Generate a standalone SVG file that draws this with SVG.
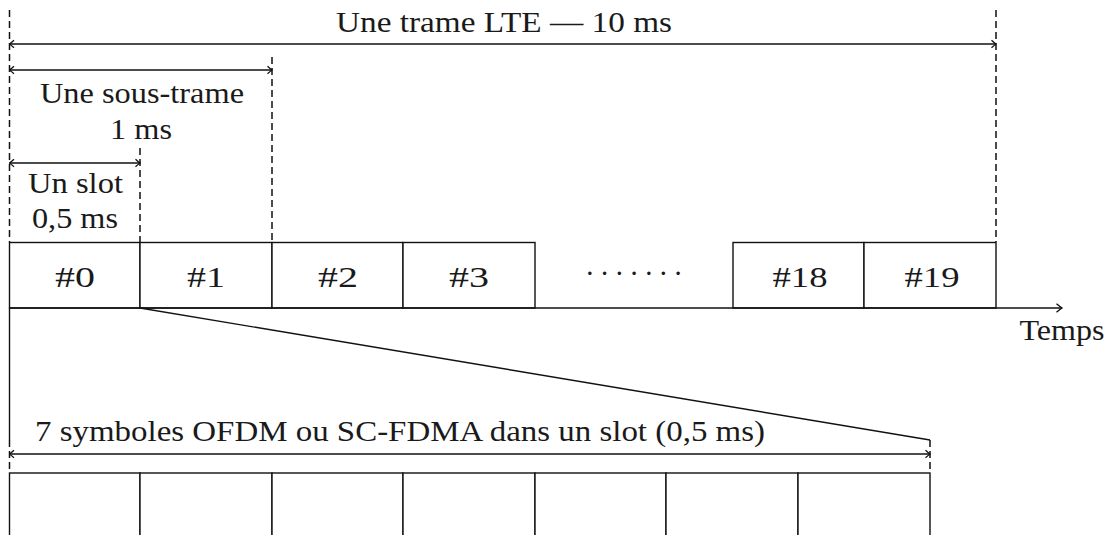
<svg xmlns="http://www.w3.org/2000/svg" width="1111" height="535" viewBox="0 0 1111 535">
  <defs>
    <style>
      .ln { stroke: #111; stroke-width: 1.4; fill: none; }
      .dash { stroke: #111; stroke-width: 1.5; fill: none; stroke-dasharray: 7 4; }
      .box { stroke: #111; stroke-width: 1.4; fill: #fff; }
      .t { font-family: "Liberation Serif", "Times New Roman", serif; font-size: 29px; fill: #1a1a1a; text-anchor: middle; }
      .arr { stroke: #111; stroke-width: 1.4; fill: none; marker-end: url(#tip); marker-start: url(#tail); }
    </style>
    <marker id="tip" viewBox="-6 -5 7 10" markerWidth="7" markerHeight="10" refX="0" refY="0" orient="auto" markerUnits="userSpaceOnUse">
      <path d="M -4.5 -3.8 Q -1.2 -0.8 0 0 Q -1.2 0.8 -4.5 3.8" stroke="#111" stroke-width="1.3" fill="none"/>
    </marker>
    <marker id="tail" viewBox="-6 -5 7 10" markerWidth="7" markerHeight="10" refX="0" refY="0" orient="auto-start-reverse" markerUnits="userSpaceOnUse">
      <path d="M -4.5 -3.8 Q -1.2 -0.8 0 0 Q -1.2 0.8 -4.5 3.8" stroke="#111" stroke-width="1.3" fill="none"/>
    </marker>
    <marker id="axtip" viewBox="-8 -5 9 10" markerWidth="9" markerHeight="10" refX="0" refY="0" orient="auto" markerUnits="userSpaceOnUse">
      <path d="M -5.5 -4.2 Q -1.5 -0.9 0 0 Q -1.5 0.9 -5.5 4.2" stroke="#111" stroke-width="1.4" fill="none"/>
    </marker>
  </defs>
  <rect width="1111" height="535" fill="#fff"/>

  <!-- dashed guide lines -->
  <g id="guides">
    <line class="dash" x1="9.5" y1="10" x2="9.5" y2="242"/>
    <line class="dash" x1="996" y1="10" x2="996" y2="242"/>
    <line class="dash" x1="272" y1="57" x2="272" y2="242"/>
    <line class="dash" x1="140" y1="148" x2="140" y2="242"/>
    <line class="dash" x1="9.5" y1="440" x2="9.5" y2="473"/>
    <line class="dash" x1="930" y1="440" x2="930" y2="473"/>
  </g>

  <!-- duration arrows and labels -->
  <g id="frame">
    <line class="arr" x1="9.5" y1="44" x2="996" y2="44"/>
    <text class="t" x="504" y="32" textLength="336" lengthAdjust="spacingAndGlyphs">Une trame LTE — 10 ms</text>
  </g>
  <g id="subframe">
    <line class="arr" x1="9.5" y1="70" x2="272" y2="70"/>
    <text class="t" x="142" y="103" textLength="204" lengthAdjust="spacingAndGlyphs">Une sous-trame</text>
    <text class="t" x="141" y="139" textLength="62" lengthAdjust="spacingAndGlyphs">1 ms</text>
  </g>
  <g id="slot">
    <line class="arr" x1="9.5" y1="163" x2="140" y2="163"/>
    <text class="t" x="75.5" y="193" textLength="95" lengthAdjust="spacingAndGlyphs">Un slot</text>
    <text class="t" x="75" y="228" textLength="86" lengthAdjust="spacingAndGlyphs">0,5 ms</text>
  </g>

  <!-- slots of the frame -->
  <g id="slot0"><rect class="box" x="9.5" y="242.5" width="130.5" height="65.5"/><text class="t" x="75" y="287" textLength="40" lengthAdjust="spacingAndGlyphs">#0</text></g>
  <g id="slot1"><rect class="box" x="140" y="242.5" width="132" height="65.5"/><text class="t" x="206" y="287" textLength="38" lengthAdjust="spacingAndGlyphs">#1</text></g>
  <g id="slot2"><rect class="box" x="272" y="242.5" width="131" height="65.5"/><text class="t" x="338" y="287" textLength="40" lengthAdjust="spacingAndGlyphs">#2</text></g>
  <g id="slot3"><rect class="box" x="403" y="242.5" width="132" height="65.5"/><text class="t" x="469" y="287" textLength="40" lengthAdjust="spacingAndGlyphs">#3</text></g>
  <g id="ellipsis"><text class="t" x="634" y="283" textLength="98" lengthAdjust="spacing">·······</text></g>
  <g id="slot18"><rect class="box" x="733" y="242.5" width="131" height="65.5"/><text class="t" x="800" y="287" textLength="55" lengthAdjust="spacingAndGlyphs">#18</text></g>
  <g id="slot19"><rect class="box" x="864" y="242.5" width="132" height="65.5"/><text class="t" x="932" y="287" textLength="55" lengthAdjust="spacingAndGlyphs">#19</text></g>

  <!-- time axis and zoom connectors -->
  <g id="connectors">
    <line class="ln" x1="9.5" y1="308" x2="1062" y2="308" marker-end="url(#axtip)"/>
    <line class="ln" x1="9.5" y1="308" x2="9.5" y2="440"/>
    <line class="ln" x1="140" y1="308" x2="930" y2="440"/>
  </g>
  <g id="axis-label">
    <text class="t" x="1062" y="340" textLength="85" lengthAdjust="spacingAndGlyphs">Temps</text>
  </g>

  <!-- symbols within one slot -->
  <g id="symbols-span">
    <line class="arr" x1="9.5" y1="454" x2="930" y2="454"/>
    <text class="t" x="400" y="441" textLength="730" lengthAdjust="spacingAndGlyphs">7 symboles OFDM ou SC-FDMA dans un slot (0,5 ms)</text>
  </g>
  <g id="sym1"><rect class="box" x="9.5" y="473" width="130.5" height="80"/></g>
  <g id="sym2"><rect class="box" x="140" y="473" width="132" height="80"/></g>
  <g id="sym3"><rect class="box" x="272" y="473" width="131" height="80"/></g>
  <g id="sym4"><rect class="box" x="403" y="473" width="132" height="80"/></g>
  <g id="sym5"><rect class="box" x="535" y="473" width="131" height="80"/></g>
  <g id="sym6"><rect class="box" x="666" y="473" width="132" height="80"/></g>
  <g id="sym7"><rect class="box" x="798" y="473" width="132" height="80"/></g>
</svg>
